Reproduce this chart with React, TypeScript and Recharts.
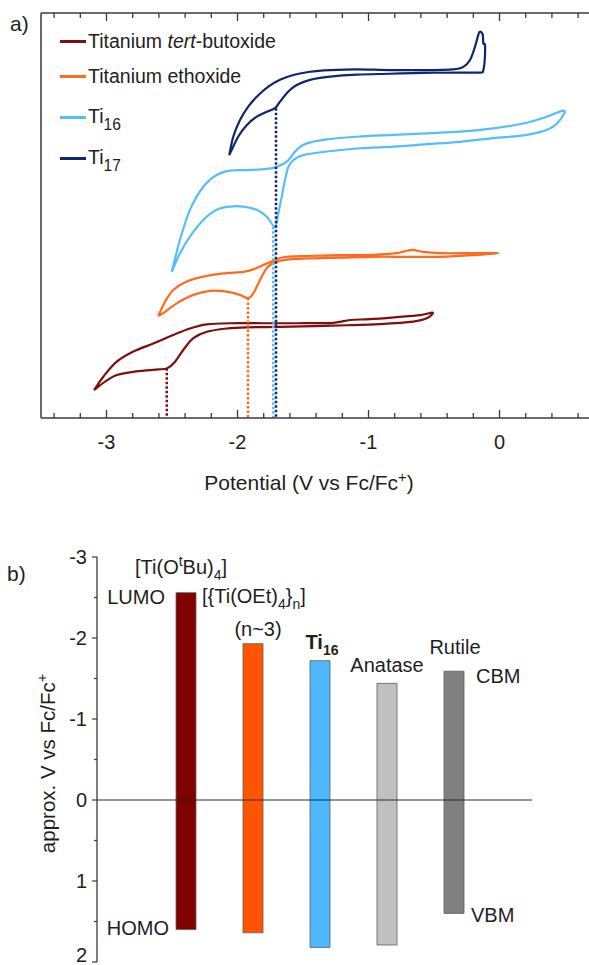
import React from 'react'
import {
  LineChart,
  Line,
  XAxis,
  YAxis,
  Legend,
  Label,
  BarChart,
  Bar,
  Cell,
  ReferenceLine,
  LabelList
} from 'recharts'

const FONT = '"Liberation Sans", Arial, Helvetica, sans-serif'
const INK = '#1e1e1e'
const AXIS = '#3a3a3a'

// a) cyclic voltammograms, [potential V vs Fc/Fc+, current (arb. units)]
const butoxideCV = [
  [-3.095, 6.9], [-3.024, 10.2], [-2.922, 13.9], [-2.795, 16.4], [-2.643, 18.4], [-2.49, 20.5],
  [-2.363, 22.1], [-2.235, 23.1], [-2.057, 23.4], [-1.803, 23.4], [-1.548, 23.4], [-1.269, 23.5],
  [-1.141, 24.2], [-0.989, 24.4], [-0.785, 24.9], [-0.607, 25.4], [-0.51, 26.0], [-0.556, 24.6],
  [-0.658, 23.8], [-0.912, 23.2], [-1.166, 22.9], [-1.421, 22.7], [-1.676, 22.5], [-1.93, 22.4],
  [-2.082, 22.1], [-2.235, 21.3], [-2.337, 19.7], [-2.414, 16.8], [-2.477, 13.9], [-2.536, 12.3],
  [-2.643, 11.9], [-2.795, 11.4], [-2.922, 10.6], [-3.011, 9.0], [-3.095, 6.9]
]
const ethoxideCV = [
  [-2.605, 25.2], [-2.553, 28.7], [-2.49, 31.6], [-2.388, 33.7], [-2.261, 34.9], [-2.108, 35.7],
  [-1.956, 36.1], [-1.879, 36.7], [-1.803, 37.8], [-1.727, 38.8], [-1.65, 39.7], [-1.472, 40.0],
  [-1.218, 40.2], [-0.963, 40.3], [-0.785, 40.7], [-0.708, 41.3], [-0.658, 41.5], [-0.582, 41.0],
  [-0.454, 40.7], [-0.2, 40.7], [-0.009, 40.7], [-0.2, 40.2], [-0.454, 39.8], [-0.708, 39.8],
  [-0.963, 39.8], [-1.218, 39.6], [-1.472, 39.4], [-1.65, 39.0], [-1.727, 38.2], [-1.777, 37.0],
  [-1.828, 34.1], [-1.879, 30.8], [-1.918, 29.6], [-1.981, 30.4], [-2.082, 31.2], [-2.21, 31.4],
  [-2.337, 30.4], [-2.464, 28.3], [-2.553, 26.2], [-2.605, 25.2]
]
const ti16CV = [
  [-2.502, 36.1], [-2.439, 44.0], [-2.363, 51.4], [-2.261, 57.1], [-2.159, 60.0], [-2.057, 61.1],
  [-1.93, 61.2], [-1.777, 61.5], [-1.701, 62.0], [-1.624, 63.3], [-1.548, 66.2], [-1.472, 67.8],
  [-1.319, 68.8], [-1.065, 69.5], [-0.811, 69.9], [-0.556, 70.3], [-0.302, 70.7], [-0.047, 71.5],
  [0.208, 72.9], [0.36, 74.4], [0.492, 75.9], [0.462, 73.6], [0.385, 71.5], [0.208, 69.9],
  [-0.047, 69.1], [-0.302, 68.2], [-0.556, 67.6], [-0.811, 67.0], [-1.065, 66.6], [-1.319, 65.8],
  [-1.498, 64.9], [-1.574, 63.7], [-1.612, 62.0], [-1.637, 58.8], [-1.663, 54.6], [-1.689, 50.5],
  [-1.714, 47.2], [-1.777, 49.7], [-1.853, 51.4], [-1.956, 52.2], [-2.057, 52.2], [-2.159, 51.4],
  [-2.261, 48.9], [-2.363, 44.8], [-2.439, 40.7], [-2.502, 36.1]
]
const ti17CV = [
  [-2.063, 64.9], [-2.032, 69.5], [-1.981, 73.6], [-1.918, 76.9], [-1.853, 79.3], [-1.765, 81.8],
  [-1.676, 83.5], [-1.574, 84.7], [-1.447, 85.5], [-1.294, 85.9], [-1.09, 86.1], [-0.836, 85.9],
  [-0.582, 85.9], [-0.353, 86.1], [-0.276, 86.7], [-0.225, 88.4], [-0.187, 91.7], [-0.162, 94.6],
  [-0.149, 95.4], [-0.128, 94.6], [-0.124, 92.5], [-0.111, 92.1], [-0.113, 88.4], [-0.124, 85.9],
  [-0.149, 85.3], [-0.327, 85.3], [-0.582, 85.2], [-0.836, 85.0], [-1.09, 84.8], [-1.294, 84.3],
  [-1.447, 83.5], [-1.548, 82.2], [-1.612, 80.6], [-1.676, 78.1], [-1.714, 76.5], [-1.777, 75.6],
  [-1.853, 74.4], [-1.93, 72.3], [-1.994, 69.5], [-2.044, 66.2], [-2.063, 64.9]
]
const cvNames = ['Titanium *tert*-butoxide', 'Titanium ethoxide', 'Ti_<16>', 'Ti_<17>']
const cvColors = ['#7d0f0f', '#ff6a1f', '#56bdfb', '#0c276b']
// reduction onsets marked by dotted drop lines
const onsetV = [-2.54, -1.92, -1.727, -1.706]
const onsetI = [12.3, 29.6, 47.2, 76.5]
const potentialTicks = [
  -3.4, -3.2, -3, -2.8, -2.6, -2.4, -2.2, -2, -1.8, -1.6, -1.4, -1.2, -1, -0.8, -0.6, -0.4, -0.2,
  0, 0.2, 0.4, 0.6
]

// b) approximate band edges
const compounds = ['[Ti(O^<t>Bu)_<4>]', '[{Ti(OEt)_<4>}_<n>]', 'Ti_<16>', 'Anatase', 'Rutile']
const lumoLevels = [-2.56, -1.93, -1.72, -1.44, -1.59]
const homoLevels = [1.6, 1.64, 1.82, 1.79, 1.4]
const bandColors = ['#800000', '#ff5500', '#4db8ff', '#c0c0c0', '#808080']
const levelTicks = [-3, -2.5, -2, -1.5, -1, -0.5, 0, 0.5, 1, 1.5, 2]

const series = [butoxideCV, ethoxideCV, ti16CV, ti17CV].map((s) => s.map(([v, i]) => ({ v, i })))
const dropLines = onsetV.map((v, k) => [{ v, i: onsetI[k] }, { v, i: 0 }])
const bandData = compounds.map((name, k) => ({ name, range: [lumoLevels[k], homoLevels[k]] }))

// Catmull-Rom through the read points, so the loops keep their sharp tips
const smoothCurve = (context: any) => {
  let pts: number[][] = []
  return {
    areaStart() {},
    areaEnd() {},
    lineStart() {
      pts = []
    },
    point(x: number, y: number) {
      pts.push([x, y])
    },
    lineEnd() {
      if (!pts.length) return
      context.moveTo(pts[0][0], pts[0][1])
      for (let k = 0; k < pts.length - 1; k++) {
        const p0 = pts[Math.max(k - 1, 0)]
        const p1 = pts[k]
        const p2 = pts[k + 1]
        const p3 = pts[Math.min(k + 2, pts.length - 1)]
        context.bezierCurveTo(
          p1[0] + (p2[0] - p0[0]) / 6,
          p1[1] + (p2[1] - p0[1]) / 6,
          p2[0] - (p3[0] - p1[0]) / 6,
          p2[1] - (p3[1] - p1[1]) / 6,
          p2[0],
          p2[1]
        )
      }
    }
  }
}

// "_<x>" subscript, "^<x>" superscript, "*x*" italic
const svgRich = (s: string, fs: number) => {
  let shift = 0
  return s
    .split(/([_^]<[^>]*>)/)
    .filter(Boolean)
    .map((p, k) => {
      const m = p.match(/^([_^])<(.*)>$/)
      const target = m ? (m[1] === '_' ? fs * 0.3 : -fs * 0.4) : 0
      const dy = target - shift
      shift = target
      return (
        <tspan key={k} dy={dy} fontSize={m ? fs * 0.7 : fs}>
          {m ? m[2] : p}
        </tspan>
      )
    })
}

const htmlRich = (s: string) =>
  s
    .split(/(\*[^*]+\*|_<[^>]*>)/)
    .filter(Boolean)
    .map((p, k) => {
      if (p.startsWith('*')) return <i key={k}>{p.slice(1, -1)}</i>
      const m = p.match(/^_<(.*)>$/)
      if (m)
        return (
          <span key={k} style={{ fontSize: '0.8em', position: 'relative', top: '0.45em' }}>
            {m[1]}
          </span>
        )
      return <span key={k}>{p}</span>
    })

const PotentialTick = (props: any) => {
  const { x, y, payload, top } = props
  const major = Math.abs(payload.value - Math.round(payload.value)) < 1e-6
  const len = major ? 8 : 5
  if (top) return <line x1={x} x2={x} y1={y} y2={y + len} stroke={AXIS} strokeWidth={1.3} />
  return (
    <g>
      <line x1={x} x2={x} y1={y} y2={y - len} stroke={AXIS} strokeWidth={1.3} />
      {major && (
        <text x={x} y={y + 31} textAnchor="middle" fontSize={20} fill={INK} fontFamily={FONT}>
          {payload.value}
        </text>
      )}
    </g>
  )
}

const PotentialTitle = (props: any) => {
  const { x, width } = props.viewBox
  return (
    <text x={x + width / 2 - 6} y={490} textAnchor="middle" fontSize={21} fill={INK} fontFamily={FONT}>
      {svgRich('Potential (V vs Fc/Fc^<+>)', 21)}
    </text>
  )
}

const legendRows = [41, 76, 117, 158]

const CVLegend = () => (
  <div style={{ position: 'relative', width: 250, height: 175, fontFamily: FONT, fontSize: 19.5, color: INK }}>
    {cvNames.map((n, k) => (
      <div
        key={k}
        style={{
          position: 'absolute',
          left: 0,
          top: legendRows[k] - 12,
          height: 24,
          lineHeight: '24px',
          whiteSpace: 'nowrap',
          display: 'flex',
          alignItems: 'center'
        }}
      >
        <span style={{ display: 'inline-block', width: 26, height: 3, background: cvColors[k], marginRight: 2 }} />
        <span>{htmlRich(n)}</span>
      </div>
    ))}
  </div>
)

const CVChart = () => (
  <LineChart width={589} height={500} margin={{ top: 3, right: 0, bottom: 0, left: 1 }}>
    <XAxis
      xAxisId="bottom"
      type="number"
      dataKey="v"
      domain={[-3.5, 0.683]}
      allowDataOverflow
      ticks={potentialTicks}
      interval={0}
      height={82}
      tickSize={0}
      tickMargin={0}
      tickLine={false}
      tick={(p: any) => <PotentialTick {...p} />}
      axisLine={{ stroke: AXIS, strokeWidth: 1.5 }}
    >
      <Label content={PotentialTitle} />
    </XAxis>
    <XAxis
      xAxisId="top"
      orientation="top"
      type="number"
      dataKey="v"
      domain={[-3.5, 0.683]}
      allowDataOverflow
      ticks={potentialTicks}
      interval={0}
      height={10}
      tickSize={0}
      tickMargin={0}
      tickLine={false}
      tick={(p: any) => <PotentialTick {...p} top />}
      axisLine={{ stroke: AXIS, strokeWidth: 1.5 }}
    />
    <YAxis
      type="number"
      dataKey="i"
      domain={[0, 100]}
      allowDataOverflow
      width={40}
      tick={false}
      tickLine={false}
      axisLine={{ stroke: AXIS, strokeWidth: 1.5 }}
    />
    <Legend content={CVLegend} align="center" verticalAlign="middle" wrapperStyle={{ top: 0, left: 60, width: 250 }} />
    {series.map((d, k) => (
      <Line
        key={`cv-${k}`}
        xAxisId="bottom"
        data={d}
        dataKey="i"
        type={smoothCurve as any}
        stroke={cvColors[k]}
        strokeWidth={2.2}
        strokeLinejoin="round"
        dot={false}
        activeDot={false}
        isAnimationActive={false}
      />
    ))}
    {dropLines.map((d, k) => (
      <Line
        key={`drop-${k}`}
        xAxisId="bottom"
        data={d}
        dataKey="i"
        type="linear"
        stroke={cvColors[k]}
        strokeWidth={2.5}
        strokeDasharray="2.5 2"
        dot={false}
        activeDot={false}
        isAnimationActive={false}
      />
    ))}
  </LineChart>
)

const LevelTick = (props: any) => {
  const { x, y, payload } = props
  const major = Math.abs(payload.value - Math.round(payload.value)) < 1e-6
  // keep the lowest label inside the page edge
  const baseline = Math.min(y + 7, 442)
  return (
    <g>
      <line x1={x} x2={x - (major ? 5 : 3)} y1={y} y2={y} stroke={AXIS} strokeWidth={1.2} />
      {major && (
        <text x={x - 10} y={baseline} textAnchor="end" fontSize={20} fill={INK} fontFamily={FONT}>
          {payload.value}
        </text>
      )}
    </g>
  )
}

const LevelTitle = (props: any) => {
  const { y, height } = props.viewBox
  const cx = 55
  const cy = y + height / 2 + 4
  return (
    <text
      x={cx}
      y={cy}
      transform={`rotate(-90 ${cx} ${cy})`}
      textAnchor="middle"
      fontSize={20.5}
      fill={INK}
      fontFamily={FONT}
    >
      {svgRich('approx. V vs Fc/Fc^<+>', 20.5)}
    </text>
  )
}

const BandLabel = (props: any) => {
  const vb = props.viewBox ?? props
  const x = props.x ?? vb.x
  const y = props.y ?? vb.y
  const width = props.width ?? vb.width
  const height = props.height ?? vb.height
  const index = props.index
  const top = Math.min(y, y + height)
  const bottom = Math.max(y, y + height)
  const right = x + width
  const cx = x + width / 2
  const fs = 20
  const t = (tx: number, ty: number, s: string, anchor = 'middle', bold = false) => (
    <text
      x={tx}
      y={ty}
      textAnchor={anchor}
      fontSize={fs}
      fontWeight={bold ? 700 : 400}
      fill={INK}
      fontFamily={FONT}
    >
      {svgRich(s, fs)}
    </text>
  )
  const name = compounds[index]
  switch (index) {
    case 0:
      return (
        <g>
          {t(x - 41, top - 19, name, 'start')}
          {t(x - 11, top + 11, 'LUMO', 'end')}
          {t(x - 7, bottom + 5, 'HOMO', 'end')}
        </g>
      )
    case 1:
      return (
        <g>
          {t(x - 41, top - 41, name, 'start')}
          {t(cx + 5, top - 8, '(n~3)')}
        </g>
      )
    case 2:
      return <g>{t(cx + 2, top - 12, name, 'middle', true)}</g>
    case 3:
      return <g>{t(cx, top - 11, name)}</g>
    default:
      return (
        <g>
          {t(cx + 1, top - 17, name)}
          {t(right + 12, top + 12, 'CBM', 'start')}
          {t(right + 7, bottom + 9, 'VBM', 'start')}
        </g>
      )
  }
}

const BandChart = () => (
  <BarChart width={589} height={445} data={bandData} margin={{ top: 37, right: 57, bottom: 3, left: 37 }} barSize={20}>
    <XAxis dataKey="name" hide padding={{ left: 55, right: 45 }} />
    <YAxis
      type="number"
      domain={[-3, 2]}
      reversed
      allowDataOverflow
      ticks={levelTicks}
      interval={0}
      width={60}
      tickSize={0}
      tickMargin={0}
      tickLine={false}
      tick={(p: any) => <LevelTick {...p} />}
      axisLine={{ stroke: AXIS, strokeWidth: 1.3 }}
    >
      <Label content={LevelTitle} />
    </YAxis>
    <Bar dataKey="range" isAnimationActive={false} stroke="#5e5e5e" strokeWidth={0.8}>
      {bandData.map((d, k) => (
        <Cell key={d.name} fill={bandColors[k]} />
      ))}
      <LabelList dataKey="range" content={BandLabel} />
    </Bar>
    <ReferenceLine y={0} stroke="#2a2a2a" strokeWidth={1} />
  </BarChart>
)

export default function App() {
  return (
    <div
      style={{
        position: 'fixed',
        left: 0,
        top: 0,
        width: 589,
        height: 965,
        overflow: 'hidden',
        background: '#fff',
        fontFamily: FONT,
        color: INK
      }}
    >
      <div style={{ position: 'absolute', left: 10, top: 12, fontSize: 21 }}>a)</div>
      <div style={{ position: 'absolute', left: 7, top: 562, fontSize: 21 }}>b)</div>
      <div style={{ position: 'absolute', left: 0, top: 0 }}>
        <CVChart />
      </div>
      <div style={{ position: 'absolute', left: 0, top: 520 }}>
        <BandChart />
      </div>
    </div>
  )
}
